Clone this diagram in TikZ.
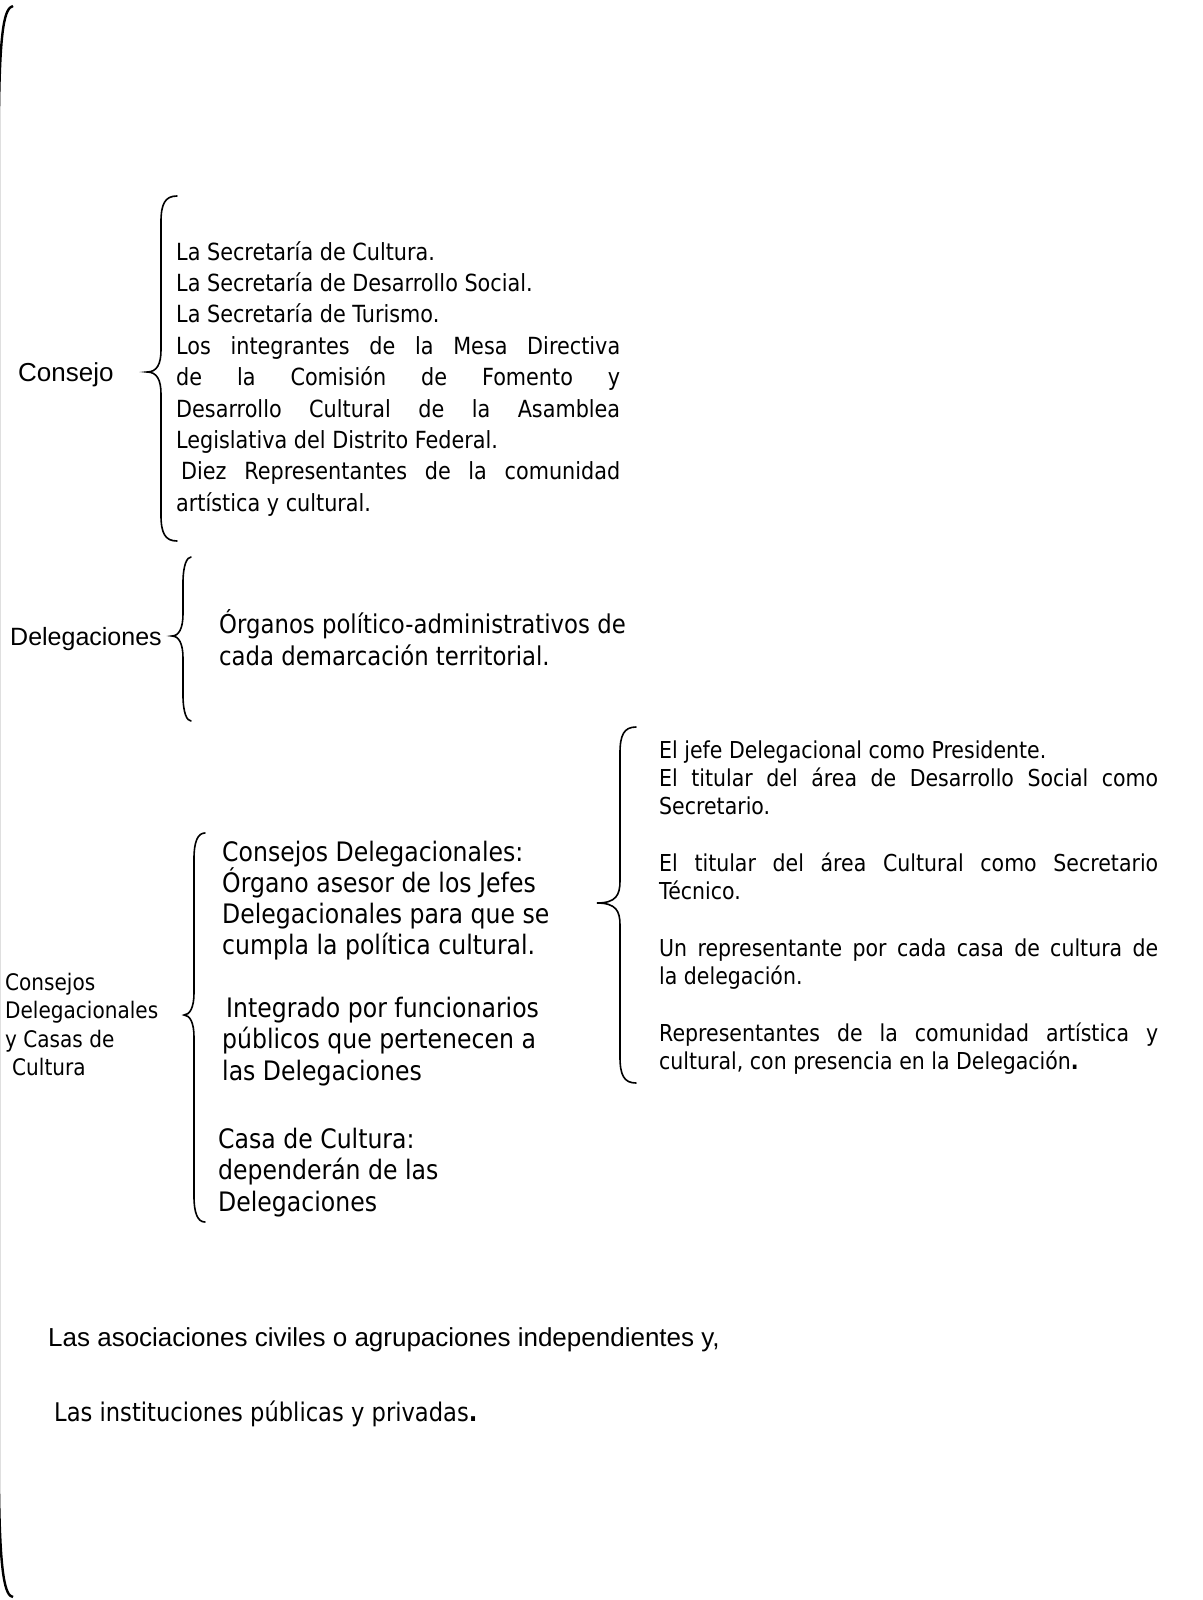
\documentclass[tikz,border=0pt]{standalone}
\usepackage{fontspec}
\newfontfamily\tah{DejaVu Sans}[FakeStretch=0.88]
\newfontfamily\ari{Liberation Sans}
\newcommand\jline[2]{\makebox[#1pt][s]{#2}}
\newcommand\bracepath[6]{%
  (#1,#4) .. controls ({#2+4},#4) and (#2,{#4+8}) .. (#2,{#4+26})
  -- (#2,{#5-22}) .. controls (#2,{#5-8}) and ({#2-4},#5) .. (#3,#5)
  .. controls ({#2-4},#5) and (#2,{#5+8}) .. (#2,{#5+22})
  -- (#2,{#6-26}) .. controls (#2,{#6-8}) and ({#2+4},#6) .. (#1,#6)}
\tikzset{
  brc/.style={line width=1.6pt, line cap=round},
  tx/.style={inner sep=0pt, anchor=base west},
  fcons/.style={font=\tah\fontsize{23.6}{30}\selectfont},
  fright/.style={font=\tah\fontsize{23.3}{28}\selectfont},
  fmid/.style={font=\tah\fontsize{26.8}{31}\selectfont},
  fdel/.style={font=\tah\fontsize{25.9}{31}\selectfont},
  flab/.style={font=\tah\fontsize{22.8}{28}\selectfont},
  fari/.style={font=\ari\fontsize{26}{30}\selectfont},
}
\begin{document}
\begin{tikzpicture}[x=1pt,y=-1pt]
\useasboundingbox (0,0) rectangle (1202,1600);
\fill[white] (0,0) rectangle (1202,1600);
\begin{scope}
\clip (0,0) rectangle (1202,1600);
\draw[line width=2.4pt] (13,6) .. controls (5,8) and (0,25) .. (-1,110)
  -- (-1,1490) .. controls (0,1575) and (5,1596) .. (13,1597);
\end{scope}
% Consejo
\draw[brc] \bracepath{177}{161}{147}{196}{372}{541};
\node[tx,fari] (consejo) at (18,381) {Consejo};
\node[tx,fcons] (c1) at (176,260) {La Secretaría de Cultura.};
\node[tx,fcons] (c2) at (176,291.4) {La Secretaría de Desarrollo Social.};
\node[tx,fcons] (c3) at (176,322.8) {La Secretaría de Turismo.};
\node[tx,fcons] (c4) at (176,354.2) {\jline{444}{Los integrantes de la Mesa Directiva}};
\node[tx,fcons] (c5) at (176,385.6) {\jline{444}{de la Comisión de Fomento y}};
\node[tx,fcons] (c6) at (176,417) {\jline{444}{Desarrollo Cultural de la Asamblea}};
\node[tx,fcons] (c7) at (176,448.4) {Legislativa del Distrito Federal.};
\node[tx,fcons] (c8) at (181,479.8) {\jline{439}{Diez Representantes de la comunidad}};
\node[tx,fcons] (c9) at (176,511.2) {artística y cultural.};
% Delegaciones
\draw[brc] \bracepath{191}{183}{172}{557}{636}{721};
\node[tx,fari,font=\ari\fontsize{25}{30}\selectfont] (deleg) at (10,645) {Delegaciones};
\node[tx,fdel] (d1) at (219,633) {Órganos político-administrativos de};
\node[tx,fdel] (d2) at (219,665) {cada demarcación territorial.};
% Consejos Delegacionales y Casas de Cultura
\draw[brc] \bracepath{205}{194}{184}{833}{1015}{1222};
\node[tx,flab] (k1) at (5,990) {Consejos};
\node[tx,flab] (k2) at (5,1018) {Delegacionales};
\node[tx,flab] (k3) at (5,1047) {y Casas de};
\node[tx,flab] (k4) at (12,1075) {Cultura};
\node[tx,fmid] (m1) at (222,861) {Consejos Delegacionales:};
\node[tx,fmid] (m2) at (222,892.3) {Órgano asesor de los Jefes};
\node[tx,fmid] (m3) at (222,923.6) {Delegacionales para que se};
\node[tx,fmid] (m4) at (222,954.9) {cumpla la política cultural.};
\node[tx,fmid] (m5) at (226,1017.5) {Integrado por funcionarios};
\node[tx,fmid] (m6) at (222,1048.8) {públicos que pertenecen a};
\node[tx,fmid] (m7) at (222,1080.1) {las Delegaciones};
\node[tx,fmid] (m8) at (218,1148) {Casa de Cultura:};
\node[tx,fmid] (m9) at (218,1179.5) {dependerán de las};
\node[tx,fmid] (m10) at (218,1211) {Delegaciones};
% Right block
\draw[brc] \bracepath{636}{620}{597}{727}{903}{1083};
\node[tx,fright] (r1) at (659,758) {El jefe Delegacional como Presidente.};
\node[tx,fright] (r2) at (659,786.3) {\jline{499}{El titular del área de Desarrollo Social como}};
\node[tx,fright] (r3) at (659,814.6) {Secretario.};
\node[tx,fright] (r4) at (659,871.2) {\jline{499}{El titular del área Cultural como Secretario}};
\node[tx,fright] (r5) at (659,899.5) {Técnico.};
\node[tx,fright] (r6) at (659,956.1) {\jline{499}{Un representante por cada casa de cultura de}};
\node[tx,fright] (r7) at (659,984.4) {la delegación.};
\node[tx,fright] (r8) at (659,1041) {\jline{499}{Representantes de la comunidad artística y}};
\node[tx,fright] (r9) at (659,1069.3) {cultural, con presencia en la Delegación\textbf{.}};
% Bottom
\node[tx,fari] (a1) at (48,1346) {Las asociaciones civiles o agrupaciones independientes y,};
\node[tx,font=\tah\fontsize{25.7}{30}\selectfont] (a2) at (54,1421) {Las instituciones públicas y privadas\textbf{.}};
\end{tikzpicture}
\end{document}
